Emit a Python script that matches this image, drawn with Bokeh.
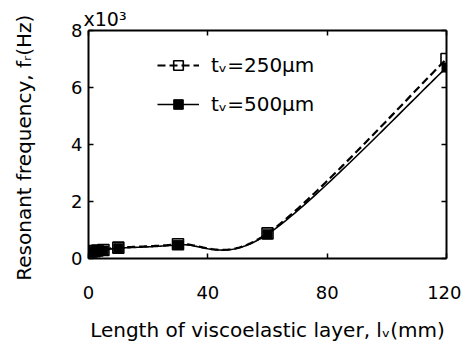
import numpy as np
from bokeh.plotting import figure
from bokeh.models import Range1d, LinearAxis, FixedTicker, Title, Legend, LegendItem
from bokeh.embed import file_html
from bokeh.resources import INLINE

# Data, y in units of 10^3 Hz
length_mm = [1, 2, 3, 5, 10, 30, 60, 120]
freq_250 = [0.25, 0.26, 0.28, 0.30, 0.38, 0.50, 0.88, 7.00]
freq_500 = [0.22, 0.24, 0.26, 0.28, 0.36, 0.48, 0.85, 6.70]
x_ticks = [0, 40, 80, 120]
y_ticks = [0, 2, 4, 6, 8]


def smooth(xs, ys, n=60):
    # spreadsheet-style smoothed line (Catmull-Rom Bezier) through the data
    P = np.column_stack([np.asarray(xs, float), np.asarray(ys, float)])
    m = len(P)
    t = np.linspace(0, 1, n)[:, None]
    pts = []
    for i in range(m - 1):
        p0, p3 = P[i], P[i + 1]
        pm = P[max(i - 1, 0)]
        pn = P[min(i + 2, m - 1)]
        c1 = p0 + (p3 - pm) / 6
        c2 = p3 - (pn - p0) / 6
        seg = ((1 - t) ** 3) * p0 + 3 * ((1 - t) ** 2) * t * c1 + 3 * (1 - t) * t ** 2 * c2 + t ** 3 * p3
        pts.append(seg if i == 0 else seg[1:])
    pts = np.vstack(pts)
    return pts[:, 0], pts[:, 1]


FONT = "DejaVu Sans"

p = figure(width=461, height=347, output_backend="svg", toolbar_location=None,
           x_range=Range1d(0, 120), y_range=Range1d(0, 8),
           min_border_left=88, min_border_right=15, min_border_top=30, min_border_bottom=89)
p.frame_width = 358
p.frame_height = 228
p.grid.visible = False
p.outline_line_color = None
p.background_fill_color = "white"

x1, y1 = smooth(length_mm, freq_250)
x2, y2 = smooth(length_mm, freq_500)
l1 = p.line(x1, y1, line_color="black", line_width=2.2, line_dash="8 4")
l2 = p.line(x2, y2, line_color="black", line_width=1.6)
s2 = p.scatter(length_mm, freq_500, marker="square", size=9, fill_color="black", line_color="black")
s1 = p.scatter(length_mm, freq_250, marker="square", size=11, fill_color=None, line_color="black", line_width=1.6)

for ax in p.xaxis + p.yaxis:
    ax.axis_line_width = 2
    ax.major_tick_in = 5
    ax.major_tick_out = 0
    ax.minor_tick_in = 0
    ax.minor_tick_out = 0
    ax.major_tick_line_width = 1.5
    ax.major_label_text_font = FONT
    ax.major_label_text_font_size = "18px"
    ax.major_label_text_color = "black"
    ax.axis_label_text_font = FONT
    ax.axis_label_text_font_style = "normal"
    ax.axis_label_text_color = "black"

p.xaxis.ticker = FixedTicker(ticks=x_ticks)
p.yaxis.ticker = FixedTicker(ticks=y_ticks)
p.xaxis.axis_label = "Length of viscoelastic layer, lᵥ(mm)"
p.yaxis.axis_label = "Resonant frequency,  fᵣ(Hz)"
p.xaxis.axis_label_text_font_size = "20px"
p.yaxis.axis_label_text_font_size = "20px"
p.xaxis.major_label_standoff = 27
p.xaxis.axis_label_standoff = 16
p.yaxis.major_label_standoff = 6
p.yaxis.axis_label_standoff = 32

for loc in ("right", "above"):
    ticks = x_ticks if loc == "above" else y_ticks
    ax = LinearAxis(ticker=FixedTicker(ticks=ticks),
                    major_label_overrides={t: "" for t in ticks}, axis_line_width=2,
                    major_tick_in=5, major_tick_out=0, minor_tick_in=0, minor_tick_out=0,
                    major_tick_line_width=1.5, major_label_standoff=0)
    p.add_layout(ax, loc)

p.add_layout(Title(text="x10³", align="left", offset=-5, standoff=2, text_font=FONT,
                   text_font_size="19px", text_font_style="normal", text_color="black"), "above")

legend = Legend(items=[LegendItem(label="tᵥ=250µm", renderers=[l1, s1]),
                       LegendItem(label="tᵥ=500µm", renderers=[l2, s2])],
                location=(69, 142), background_fill_alpha=0, border_line_color=None,
                label_text_font=FONT, label_text_font_size="20px", label_text_color="black",
                glyph_width=42, glyph_height=24, spacing=15, label_standoff=12, padding=10)
p.add_layout(legend)

open("out.html", "w").write(file_html(p, INLINE))
